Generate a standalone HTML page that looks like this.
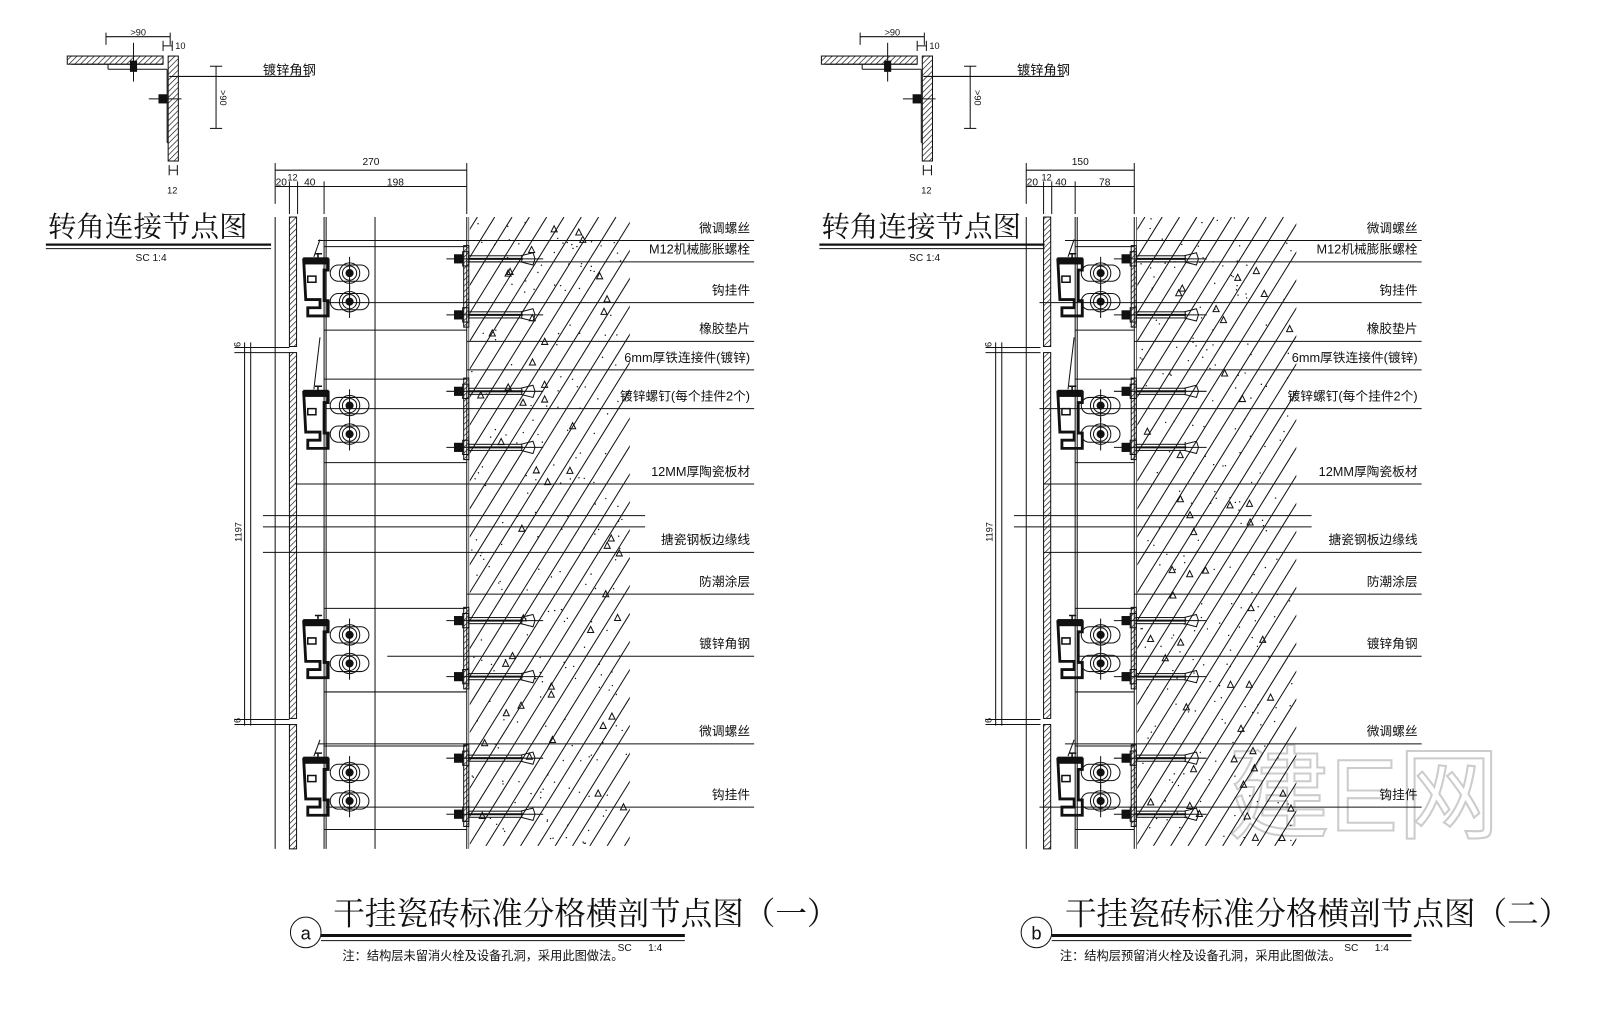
<!DOCTYPE html>
<html><head><meta charset="utf-8"><style>
html,body{margin:0;padding:0;background:#fff;}
svg{display:block;}
text{font-family:"Liberation Sans","Noto Sans CJK SC",sans-serif;fill:#111;}
.t{font-family:"Noto Serif CJK SC","Liberation Serif",serif;}
</style></head><body>
<svg id="s" width="1600" height="1016" viewBox="0 0 1570 997" preserveAspectRatio="none" xmlns="http://www.w3.org/2000/svg">
<defs>
<pattern id="h" width="4" height="4" patternUnits="userSpaceOnUse" patternTransform="rotate(45)"><line x1="0" y1="0" x2="0" y2="4" stroke="#111" stroke-width="1.3"/></pattern>
</defs>
<text x="1205" y="815" font-size="100" fill="none" stroke="#ccc" stroke-width="2" style="fill:none" font-family="Liberation Sans, Noto Sans CJK SC, sans-serif">建E网</text>
<g id="g" stroke="#111" fill="none" stroke-width="1"></g>
<g id="tx"></g>
</svg>
<script>
var g=document.getElementById('g'),tx=document.getElementById('tx');
var NS='http://www.w3.org/2000/svg';
function el(p,n,a,t){var e=document.createElementNS(NS,n);for(var k in a)e.setAttribute(k,a[k]);if(t)e.textContent=t;p.appendChild(e);return e;}
function L(x1,y1,x2,y2,w){el(g,'line',{x1:x1,y1:y1,x2:x2,y2:y2,'stroke-width':w||1});}
function R(x,y,w,h,f,sw){el(g,'rect',{x:x,y:y,width:w,height:h,fill:f||'none','stroke-width':sw||1});}
function T(x,y,s,str,anchor,cls,extra){var a={x:x,y:y,'font-size':s};if(anchor)a['text-anchor']=anchor;if(cls)a['class']=cls;if(extra)for(var k in extra)a[k]=extra[k];el(tx,'text',a,str);}
function C(x,y,r,f){el(g,'circle',{cx:x,cy:y,r:r,fill:f||'none'});}

function corner(ox,tox){
  R(ox,55,94,8,'url(#h)');
  L(ox+4,63,ox+94,63);L(ox+40,63,ox+40,68);L(ox+40,68,ox+98,68);L(ox+98,68,ox+98,140);L(ox+98,140,ox+99,140);
  R(ox+99,55,10,103,'url(#h)');
  L(ox+38,36,ox+101,36);L(ox+38,32,ox+38,44);L(ox+101,32,ox+101,44);T(ox+62,35,9,'>90');
  L(ox+94,40,ox+94,50);L(ox+103,40,ox+103,50);L(ox+94,45,ox+103,45);T(ox+106,48,9,'10');
  L(ox+65,42,ox+65,80);R(ox+62,60,6,10,'#111');
  L(ox+80,97,ox+112,97);R(ox+90,93,8,8,'#111');
  L(ox+100,75,ox+238,75);T(ox+192,73,13,'镀锌角钢');
  L(ox+146,65,ox+146,126);L(ox+140,65,ox+152,65);L(ox+140,126,ox+152,126);
  T(ox+150,96,9,'>90','middle',null,{transform:'rotate(90 '+(ox+150)+' 96)'});
  L(ox+100,162,ox+100,172);L(ox+108,162,ox+108,172);L(ox+100,167,ox+108,167);T(ox+98,190,9,'12');
  T(tox,232,28,'转角连接节点图',null,'t');
  L(tox-2,240,tox+219,240,2.2);L(tox-2,244,tox+219,244);
  T(tox+86,256,10,'SC    1:4');
}
function bracket(px,y,cx,bx1,bx2,face){
  el(g,'path',{d:'M'+(px+6)+' '+y+' h24 v10 h-4 v30 h4 v15 h-20 v-8 h12 v-8 h-14 z','stroke-width':2.8});
  el(g,'path',{d:'M'+(px+10)+' '+(y+16)+' h8 v6 h-8 z M'+(px+20)+' '+(y-6)+' v6 M'+(px+17)+' '+(y-6)+' h7','stroke-width':1.5});
  R(px+6,y-2,24,6,'#111');
  [y+13,y+41].forEach(function(cy){
    el(g,'rect',{x:cx-19,y:cy-8,width:38,height:16,rx:8});
    C(cx,cy,10);C(cx,cy,7);C(cx,cy,3.5,'#111');L(cx,cy-16,cx,cy+16);
  });
  [y-1,y+54].forEach(function(by){
    L(bx1,by,bx2+8,by);R(bx1+8,by-4,8,8,'#111');R(bx1+16,by-7,6,14);
    R(bx1+22,by-3,(bx2-bx1)-35,6);L(bx1+22,by,bx2-12,by,2);
    el(g,'path',{d:'M'+(bx2-14)+' '+(by-3)+' L'+(bx2-2)+' '+(by-6)+' L'+bx2+' '+by+' L'+(bx2-2)+' '+(by+6)+' L'+(bx2-14)+' '+(by+3)});
  });
  R(face-3,y-14,5,80,'url(#h)');
}
function section(o){
  var p=o.px, f=o.face, top=213, bot=833;
  L(o.outer,167,f,167);L(o.outer,160,o.outer,200);L(f,160,f,210);T((o.outer+f)/2,162,10,o.tot,'middle');
  L(o.outer,183,f,183);
  [p,p+8,o.dl].forEach(function(x){L(x,178,x,210);});
  T(o.outer+6,182,10,'20','middle');T(p+3,177,9,'12','middle');T(o.dl-14,182,10,'40','middle');T((o.dl+f)/2,182,10,o.last,'middle');
  L(o.outer,top,o.outer,bot);L(o.dl,top,o.dl,bot);L(o.dl+2,top,o.dl+2,bot);
  if(o.v3)L(o.v3,top,o.v3,bot);
  L(f,top,f,bot);L(f+2,top,f+2,bot,0.6);
  R(p,top,7,127,'url(#h)');R(p,346,7,359,'url(#h)');R(p,711,7,122,'url(#h)');
  L(o.outer-40,341,o.outer+14,341);L(o.outer-40,346,o.outer+14,346);
  L(o.outer-40,706,o.outer+14,706);L(o.outer-40,711,o.outer+14,711);
  L(o.outer-24,336,o.outer-24,712);L(o.outer-30,336,o.outer-30,712);
  T(o.outer-33,522,9,'1197','middle',null,{transform:'rotate(-90 '+(o.outer-33)+' 522)'});
  T(o.outer-34,338,9,'6','middle',null,{transform:'rotate(-90 '+(o.outer-34)+' 338)'});
  T(o.outer-34,707,9,'6','middle',null,{transform:'rotate(-90 '+(o.outer-34)+' 707)'});
  L(o.outer-12,506,o.hr+15,506);L(o.outer-12,517,o.hr+15,517);
  var hr=o.hr;
  el(g,'clipPath',{id:'c'+p}).appendChild(document.createElementNS(NS,'rect'));
  var cp=document.getElementById('c'+p).firstChild;cp.setAttribute('x',f+3);cp.setAttribute('y',top);cp.setAttribute('width',hr-f-3);cp.setAttribute('height',bot-top-3);
  var hg=el(g,'g',{'clip-path':'url(#c'+p+')'});
  for(var k=-40;k<40;k++){var x0=f+k*17;el(hg,'line',{x1:x0,y1:bot,x2:x0+620*0.62,y2:top-0});}
  var seed=p;function rnd(){seed=(seed*9301+49297)%233280;return seed/233280;}
  for(var i=0;i<220;i++){el(hg,'circle',{cx:f+5+rnd()*(hr-f-8),cy:top+rnd()*(bot-top),r:0.7,fill:'#111','stroke-width':0});}
  for(var i=0;i<45;i++){var x=f+8+rnd()*(hr-f-16),y=top+5+rnd()*(bot-top-10);el(hg,'path',{d:'M'+x+' '+y+' l3 -6 l3 6 z'});}
  [[255,325,235],[385,359,359],[610,578,578],[745,726,726]].forEach(function(b){
    bracket(p+8,b[0],o.cx,o.bx1,o.bx2,f);
    L(o.dl,b[0]-13,f,b[0]-13);L(o.dl,b[0]+69,f,b[0]+69);
  });
  L(p+24,252,p+30,235);L(p+24,382,p+30,331);L(p+24,742,p+30,726);
  var labs=o.labs, lr=o.lr;
  labs.forEach(function(l){L(l[2],l[1]+8,lr,l[1]+8);T(lr-4,l[1],12.5,l[0],'end');});
}
corner(66,47);corner(806,806);
var labsL=[['微调螺丝',228,312],['M12机械膨胀螺栓',249,458],['钩挂件',289,320],['橡胶垫片',327,458],['6mm厚铁连接件(镀锌)',355,458],['镀锌螺钉(每个挂件2个)',393,320],['12MM厚陶瓷板材',467,290],['搪瓷钢板边缘线',534,258],['防潮涂层',575,458],['镀锌角钢',636,380],['微调螺丝',722,312],['钩挂件',784,320]];
section({px:284,outer:270,dl:318,v3:368,face:458,hr:618,tot:'270',last:'198',cx:343,bx1:438,bx2:525,lr:740,labs:labsL});
var labsR=labsL.map(function(l){var x=l[2];x=x===458?1113:(x<300?1024:x+700);if(l[0]==='镀锌角钢')x=1058;if(l[0].indexOf('微调')==0)x=1045;return [l[0],l[1],x];});
section({px:1024,outer:1007,dl:1055,v3:0,face:1113,hr:1272,tot:'150',last:'78',cx:1080,bx1:1093,bx2:1176,lr:1395,labs:labsR});
function btitle(cx,ch,title,note,tx1,ul2,nx){
  C(cx,915,15);T(cx,922,18,ch,'middle');
  L(cx+15,918,ul2,918,3);L(cx+15,923,ul2,923);
  T(tx1,907,31,title,null,'t');
  T(nx,942,12,note);
  T(ul2-66,933,10,'SC');T(ul2-36,933,10,'1:4');
}
btitle(300,'a','干挂瓷砖标准分格横剖节点图（一）','注：结构层未留消火栓及设备孔洞，采用此图做法。',327,672,336);
btitle(1017,'b','干挂瓷砖标准分格横剖节点图（二）','注：结构层预留消火栓及设备孔洞，采用此图做法。',1045,1385,1040);
</script>
</body></html>
